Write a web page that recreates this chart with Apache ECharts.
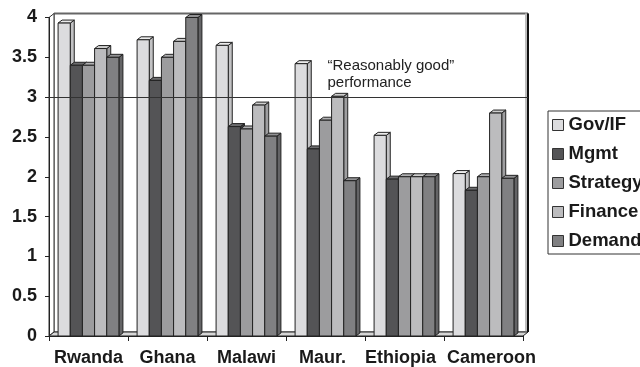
<!DOCTYPE html>
<html>
<head>
<meta charset="utf-8">
<script src="https://cdn.jsdelivr.net/npm/echarts@6/dist/echarts.min.js"></script>
<style>
  html, body { margin: 0; padding: 0; background: #fff; }
  #chart { width: 640px; height: 367px; }
</style>
</head>
<body>
<div id="chart"></div>
<script>
// Country scores by dimension (0-4 scale)
const countries = ['Rwanda', 'Ghana', 'Malawi', 'Maur.', 'Ethiopia', 'Cameroon'];
const seriesNames = ['Gov/IF', 'Mgmt', 'Strategy', 'Finance', 'Demand'];
const govIF    = [3.93, 3.72, 3.65, 3.42, 2.52, 2.04];
const mgmt     = [3.40, 3.21, 2.63, 2.35, 1.97, 1.83];
const strategy = [3.40, 3.50, 2.60, 2.71, 2.00, 2.00];
const finance  = [3.61, 3.70, 2.90, 3.01, 2.00, 2.80];
const demand   = [3.50, 4.00, 2.51, 1.95, 2.00, 1.98];
const yTicks = [0, 0.5, 1, 1.5, 2, 2.5, 3, 3.5, 4];
const threshold = 3;
const thresholdText = ['\u201cReasonably good\u201d', 'performance'];

const seriesValues = [govIF, mgmt, strategy, finance, demand];

// nudge of the long country names so neighbours don't collide (px, + = right)
const labelNudge = [0, 0, 0, -3, -4, 8];

// front / top / side shades for each series
const shades = [
  { front: '#dcdcde', top: '#ececec', side: '#c2c2c4' },
  { front: '#545456', top: '#6c6c6e', side: '#3c3c3e' },
  { front: '#9c9c9e', top: '#b0b0b2', side: '#7e7e80' },
  { front: '#bcbcbe', top: '#cecece', side: '#9e9ea0' },
  { front: '#808082', top: '#929294', side: '#646466' }
];

const DX = 4, DY = 3;          // extrusion of the pseudo-3D bars
const GROUP = 0.77;            // share of each category band used by the bars
const EDGE = '#222';
const FONT = 'Liberation Sans, Arial, Helvetica, sans-serif';

function barRenderer(sIdx) {
  return function (params, api) {
    const cat = api.value(0);
    const val = api.value(1);
    const band = api.size([1, 0])[0];
    const cx = api.coord([cat, 0])[0];
    const yBase = api.coord([cat, 0])[1];
    const yTop = api.coord([cat, val])[1];
    const groupW = band * GROUP;
    const w = groupW / seriesNames.length;
    const x0 = cx - groupW / 2 + sIdx * w;
    const x1 = x0 + w;
    const c = shades[sIdx];
    const st = { stroke: EDGE, lineWidth: 1 };
    return {
      type: 'group',
      children: [
        { type: 'polygon', shape: { points: [[x1, yTop], [x1 + DX, yTop - DY], [x1 + DX, yBase - DY], [x1, yBase]] },
          style: Object.assign({ fill: c.side }, st) },
        { type: 'polygon', shape: { points: [[x0, yTop], [x0 + DX, yTop - DY], [x1 + DX, yTop - DY], [x1, yTop]] },
          style: Object.assign({ fill: c.top }, st) },
        { type: 'rect', shape: { x: x0, y: yTop, width: w, height: yBase - yTop },
          style: Object.assign({ fill: c.front }, st) }
      ]
    };
  };
}

const series = seriesNames.map((name, i) => ({
  name: name,
  type: 'custom',
  renderItem: barRenderer(i),
  itemStyle: { color: shades[i].front },
  encode: { x: 0, y: 1 },
  data: seriesValues[i].map((v, k) => [k, v]),
  z: 2
}));

const chart = echarts.init(document.getElementById('chart'), null, { renderer: 'canvas' });

const labelFont = { fontFamily: FONT, fontWeight: 'bold', fontSize: 18, color: '#1a1a1a' };

const categoryData = countries.map((name, i) => {
  const n = labelNudge[i];
  return {
    value: name,
    textStyle: { padding: n >= 0 ? [0, 0, 0, 2 * n] : [0, -2 * n, 0, 0] }
  };
});

chart.setOption({
  animation: false,
  grid: { left: 49, right: 117, top: 17.5, bottom: 29.5, containLabel: false },
  xAxis: {
    type: 'category',
    data: categoryData,
    boundaryGap: true,
    axisLine: { lineStyle: { color: EDGE, width: 1 } },
    axisTick: { show: true, length: 5, lineStyle: { color: EDGE } },
    axisLabel: Object.assign({ margin: 13, interval: 0 }, labelFont),
    splitLine: { show: false }
  },
  yAxis: {
    type: 'value',
    min: yTicks[0],
    max: yTicks[yTicks.length - 1],
    interval: yTicks[1] - yTicks[0],
    axisLine: { show: true, lineStyle: { color: EDGE, width: 1 } },
    axisTick: { show: true, length: 4, lineStyle: { color: EDGE } },
    axisLabel: Object.assign({ margin: 12 }, labelFont),
    splitLine: { show: false }
  },
  legend: {
    data: seriesNames,
    orient: 'vertical',
    left: 548,
    top: 111,
    icon: 'rect',
    itemWidth: 11,
    itemHeight: 11,
    itemGap: 9,
    padding: [4, 60, 3, 4],
    borderColor: '#333',
    borderWidth: 1,
    itemStyle: { borderColor: '#333', borderWidth: 1 },
    textStyle: { fontFamily: FONT, fontWeight: 'bold', fontSize: 18.5, color: '#1a1a1a', lineHeight: 20 }
  },
  series: series
});

// Walls, floor, threshold line and its note, placed through the axes' scales
function px(cat, val) {
  return chart.convertToPixel({ xAxisIndex: 0, yAxisIndex: 0 }, [cat, val]);
}
const band = px(1, 0)[0] - px(0, 0)[0];
const xL = px(0, 0)[0] - band / 2;
const xR = px(countries.length - 1, 0)[0] + band / 2;
const y0 = px(0, 0)[1];
const yMax = px(0, yTicks[yTicks.length - 1])[1];
const yThr = px(0, threshold)[1];
const WX = 5, WY = 4;            // depth of walls and floor

const noteAnchor = px(3, 3.29);
chart.setOption({
  graphic: [
    // back wall
    { type: 'rect', z: -10, shape: { x: xL + WX, y: yMax - WY, width: xR - xL, height: y0 - yMax },
      style: { fill: '#fff', stroke: '#444', lineWidth: 1 } },
    { type: 'line', z: -9, shape: { x1: xL + WX, y1: yMax - WY, x2: xR + WX, y2: yMax - WY },
      style: { stroke: '#666', lineWidth: 2 } },
    { type: 'rect', z: -9, shape: { x: xR + WX - 3, y: yMax - WY, width: 2, height: y0 - yMax },
      style: { fill: '#bdbdbd' } },
    { type: 'line', z: -9, shape: { x1: xR + WX, y1: yMax - WY, x2: xR + WX, y2: y0 - WY },
      style: { stroke: '#111', lineWidth: 2 } },
    // side wall
    { type: 'polygon', z: -8, shape: { points: [[xL, yMax], [xL + WX, yMax - WY], [xL + WX, y0 - WY], [xL, y0]] },
      style: { fill: '#fff', stroke: '#333', lineWidth: 1 } },
    // floor
    { type: 'polygon', z: -7, shape: { points: [[xL, y0], [xR, y0], [xR + WX, y0 - WY], [xL + WX, y0 - WY]] },
      style: { fill: '#d6d6d6', stroke: '#222', lineWidth: 1 } },
    // threshold line
    { type: 'line', z: 50, shape: { x1: xL, y1: Math.round(yThr) + 0.5, x2: xR + WX, y2: Math.round(yThr) + 0.5 },
      style: { stroke: '#333', lineWidth: 1 } },
    // note about the threshold
    { type: 'text', z: 50, x: noteAnchor[0] + 2, y: noteAnchor[1],
      style: { text: thresholdText.join('\n'), fontFamily: FONT, fontSize: 15,
               lineHeight: 17, fill: '#222', verticalAlign: 'middle' } }
  ]
});
</script>
</body>
</html>
